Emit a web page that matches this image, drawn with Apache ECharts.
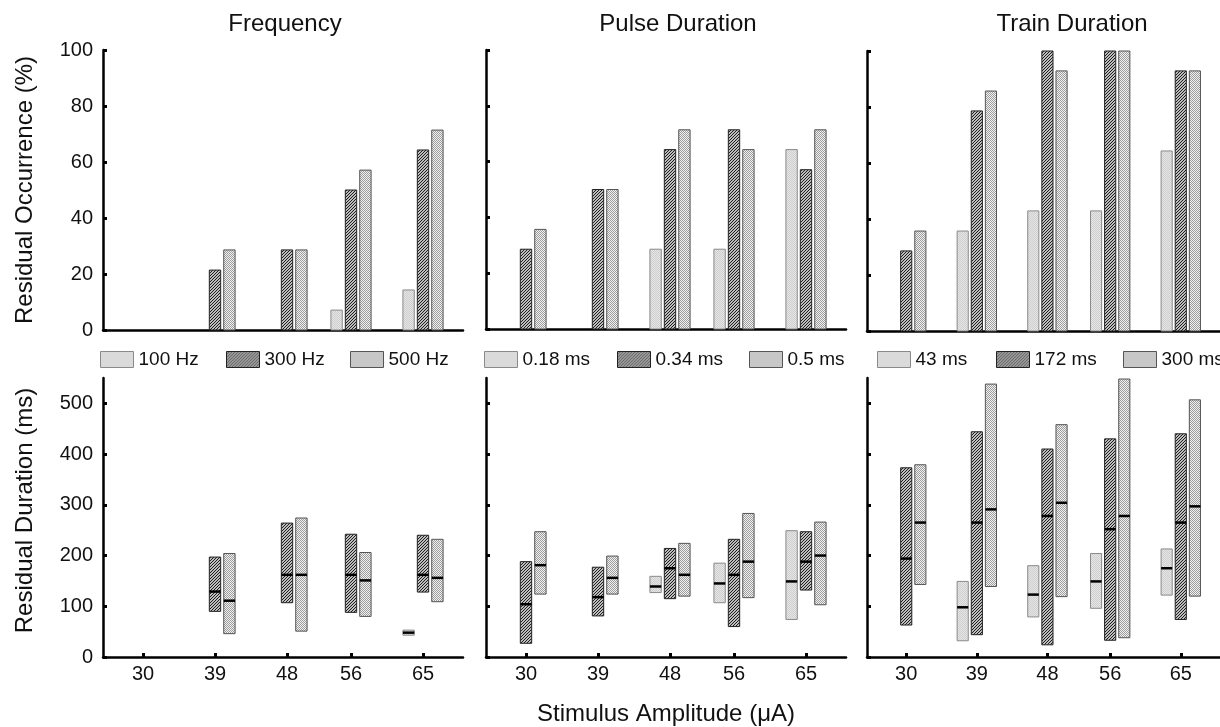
<!DOCTYPE html>
<html>
<head>
<meta charset="utf-8">
<script src="https://cdn.jsdelivr.net/npm/echarts@6/dist/echarts.min.js"></script>
<style>
html,body{margin:0;padding:0;background:#fff;}
#chart{width:1220px;height:727px;}
</style>
</head>
<body>
<div id="chart"></div>
<script>
// ---------- DATA ----------
const amplitudes = [30, 39, 48, 56, 65];
const panelTitles = ['Frequency', 'Pulse Duration', 'Train Duration'];
const occTicks = [0, 20, 40, 60, 80, 100];
const durTicks = [0, 100, 200, 300, 400, 500];

// Residual occurrence (%)
const freqOcc100 = [null, null, null, 7.1, 14.3];
const freqOcc300 = [null, 21.4, 28.6, 50.0, 64.3];
const freqOcc500 = [null, 28.6, 28.6, 57.1, 71.4];
const pulseOcc018 = [null, null, 28.6, 28.6, 64.3];
const pulseOcc034 = [28.6, 50.0, 64.3, 71.4, 57.1];
const pulseOcc05 = [35.7, 50.0, 71.4, 64.3, 71.4];
const trainOcc43 = [null, 35.7, 42.9, 42.9, 64.3];
const trainOcc172 = [28.6, 78.6, 100, 100, 92.9];
const trainOcc300 = [35.7, 85.7, 92.9, 100, 92.9];

// Residual duration (ms): [low, median, high]
const freqDur100 = [null, null, null, null, [43, 48, 53]];
const freqDur300 = [null, [90, 129, 197], [107, 162, 264], [88, 162, 242], [128, 162, 240]];
const freqDur500 = [null, [46, 111, 204], [51, 162, 274], [80, 151, 206], [109, 156, 232]];
const pulseDur018 = [null, null, [127, 139, 159], [107, 145, 185], [74, 149, 249]];
const pulseDur034 = [[27, 104, 188], [81, 118, 177], [115, 175, 214], [60, 162, 232], [132, 188, 247]];
const pulseDur05 = [[124, 181, 247], [124, 156, 199], [120, 162, 224], [117, 188, 283], [103, 200, 266]];
const trainDur43 = [null, [32, 98, 149], [79, 123, 180], [96, 149, 204], [122, 175, 213]];
const trainDur172 = [[63, 194, 373], [44, 265, 444], [24, 278, 410], [33, 252, 430], [74, 265, 440]];
const trainDur300 = [[143, 265, 379], [139, 291, 538], [119, 304, 458], [38, 278, 548], [120, 297, 507]];

const freqNames = ['100 Hz', '300 Hz', '500 Hz'];
const pulseNames = ['0.18 ms', '0.34 ms', '0.5 ms'];
const trainNames = ['43 ms', '172 ms', '300 ms'];

// ---------- STYLES ----------
function makePattern(size, draw) {
  const c = document.createElement('canvas');
  c.width = size; c.height = size;
  const ctx = c.getContext('2d');
  draw(ctx);
  return { image: c, repeat: 'repeat' };
}
const patLight = makePattern(2, ctx => {
  ctx.fillStyle = '#e6e6e6'; ctx.fillRect(0, 0, 2, 2);
  ctx.fillStyle = '#cecece'; ctx.fillRect(0, 0, 1, 1); ctx.fillRect(1, 1, 1, 1);
});
const patHatch = makePattern(3, ctx => {
  ctx.fillStyle = '#bdbdbd'; ctx.fillRect(0, 0, 3, 3);
  ctx.fillStyle = '#1e1e1e'; ctx.fillRect(2, 0, 1, 1); ctx.fillRect(1, 1, 1, 1); ctx.fillRect(0, 2, 1, 1);
});
const patDots = makePattern(2, ctx => {
  ctx.fillStyle = '#f2f2f2'; ctx.fillRect(0, 0, 2, 2);
  ctx.fillStyle = '#9c9c9c'; ctx.fillRect(0, 0, 1, 1); ctx.fillRect(1, 1, 1, 1);
});
const seriesStyles = [
  { fill: patLight, stroke: '#8a8a8a' },
  { fill: patHatch, stroke: '#222222' },
  { fill: patDots, stroke: '#555555' }
];
const OFFSETS = [-1.8, 0, 1.8];
const BAR_W = 1.42;
const FONT = "'Liberation Sans', Arial, Helvetica, sans-serif";

const grids = [
  { left: 103, top: 50, width: 360, height: 280 },
  { left: 486, top: 50, width: 360, height: 279 },
  { left: 867, top: 51, width: 360, height: 280 },
  { left: 103, top: 378, width: 360, height: 279 },
  { left: 486, top: 378, width: 360, height: 279 },
  { left: 867, top: 378, width: 360, height: 279 }
];

function occRender(k) {
  const st = seriesStyles[k];
  return function (params, api) {
    const v = api.value(1);
    const x = api.value(0) + OFFSETS[k];
    const top = api.coord([x, v]);
    const base = api.coord([x, 0]);
    const w = api.size([BAR_W, 0])[0];
    return {
      type: 'rect',
      shape: { x: top[0] - w / 2, y: top[1], width: w, height: base[1] - top[1] },
      style: { fill: st.fill, stroke: st.stroke, lineWidth: 1 }
    };
  };
}
function durRender(k) {
  const st = seriesStyles[k];
  return function (params, api) {
    const x = api.value(0) + OFFSETS[k];
    const lo = api.coord([x, api.value(1)]);
    const med = api.coord([x, api.value(2)]);
    const hi = api.coord([x, api.value(3)]);
    const w = api.size([BAR_W, 0])[0];
    return {
      type: 'group',
      children: [
        { type: 'rect', shape: { x: hi[0] - w / 2, y: hi[1], width: w, height: lo[1] - hi[1] },
          style: { fill: st.fill, stroke: st.stroke, lineWidth: 1 } },
        { type: 'line', shape: { x1: med[0] - w / 2, y1: med[1], x2: med[0] + w / 2, y2: med[1] },
          style: { stroke: '#000', lineWidth: 2.5 }, z2: 10 }
      ]
    };
  };
}

const occSets = [[freqOcc100, freqOcc300, freqOcc500], [pulseOcc018, pulseOcc034, pulseOcc05], [trainOcc43, trainOcc172, trainOcc300]];
const durSets = [[freqDur100, freqDur300, freqDur500], [pulseDur018, pulseDur034, pulseDur05], [trainDur43, trainDur172, trainDur300]];
const nameSets = [freqNames, pulseNames, trainNames];

const series = [];
for (let p = 0; p < 3; p++) {
  for (let k = 0; k < 3; k++) {
    const name = nameSets[p][k];
    series.push({
      type: 'custom', name: name, xAxisIndex: p, yAxisIndex: p,
      renderItem: occRender(k),
      itemStyle: { color: seriesStyles[k].fill, borderColor: seriesStyles[k].stroke },
      encode: { x: 0, y: 1 },
      data: amplitudes.map((a, i) => [a, occSets[p][k][i]]).filter(d => d[1] != null)
    });
    series.push({
      type: 'custom', name: name, xAxisIndex: p + 3, yAxisIndex: p + 3,
      renderItem: durRender(k),
      itemStyle: { color: seriesStyles[k].fill, borderColor: seriesStyles[k].stroke },
      encode: { x: 0, y: [1, 2, 3] },
      data: amplitudes.map((a, i) => durSets[p][k][i] ? [a, durSets[p][k][i][0], durSets[p][k][i][1], durSets[p][k][i][2]] : null).filter(d => d)
    });
  }
}

const axisLineStyle = { show: true, onZero: false, lineStyle: { color: '#000', width: 2.5 } };
const xAxes = [], yAxes = [];
for (let g = 0; g < 6; g++) {
  const bottom = g >= 3;
  xAxes.push({
    type: 'value', gridIndex: g, min: 25, max: 70,
    axisLine: axisLineStyle,
    splitLine: { show: false },
    axisTick: bottom ? { show: true, inside: true, length: 4, customValues: amplitudes, lineStyle: { color: '#000', width: 3 } } : { show: false },
    axisLabel: bottom ? { show: true, customValues: amplitudes, fontSize: 20, color: '#111', margin: 7, fontFamily: FONT } : { show: false },
    name: g === 4 ? 'Stimulus Amplitude (\u03bcA)' : '',
    nameLocation: 'middle', nameGap: 45,
    nameTextStyle: { fontSize: 24, color: '#111', fontFamily: FONT }
  });
  const left = (g === 0 || g === 3);
  yAxes.push({
    type: 'value', gridIndex: g, min: 0, max: bottom ? 550 : 100,
    interval: bottom ? 100 : 20,
    axisLine: axisLineStyle,
    splitLine: { show: false },
    axisTick: { show: true, inside: true, length: 4, customValues: bottom ? durTicks : occTicks, lineStyle: { color: '#000', width: 3 } },
    axisLabel: { show: left, customValues: bottom ? durTicks : occTicks, fontSize: 20, color: '#111', margin: 10, fontFamily: FONT },
    name: g === 0 ? 'Residual Occurrence (%)' : (g === 3 ? 'Residual Duration (ms)' : ''),
    nameLocation: 'middle', nameGap: 66,
    nameTextStyle: { fontSize: 24, color: '#111', fontFamily: FONT, padding: g === 3 ? [0, 0, 0, 14] : 0 }
  });
}

const legendLefts = [[100, 226, 350], [484, 617, 749], [877, 996, 1123]];
const legends = [];
for (let p = 0; p < 3; p++) {
  for (let k = 0; k < 3; k++) {
    legends.push({
      left: legendLefts[p][k], top: 350, padding: 0, icon: 'rect',
      itemWidth: 33, itemHeight: 16, itemGap: 5,
      data: [nameSets[p][k]],
      itemStyle: { color: seriesStyles[k].fill, borderColor: seriesStyles[k].stroke, borderWidth: 1 },
      textStyle: { fontSize: 19, color: '#111', fontFamily: FONT }
    });
  }
}

const titleLefts = [285, 678, 1072];
const titles = panelTitles.map((t, i) => ({
  text: t, left: titleLefts[i], top: 12, textAlign: 'center', padding: 0,
  textStyle: { fontSize: 24, fontWeight: 'normal', color: '#111', fontFamily: FONT }
}));

const chart = echarts.init(document.getElementById('chart'), null, { renderer: 'canvas' });
chart.setOption({
  animation: false,
  backgroundColor: '#fff',
  textStyle: { fontFamily: FONT },
  title: titles,
  legend: legends,
  grid: grids,
  xAxis: xAxes,
  yAxis: yAxes,
  series: series
});
</script>
</body>
</html>
